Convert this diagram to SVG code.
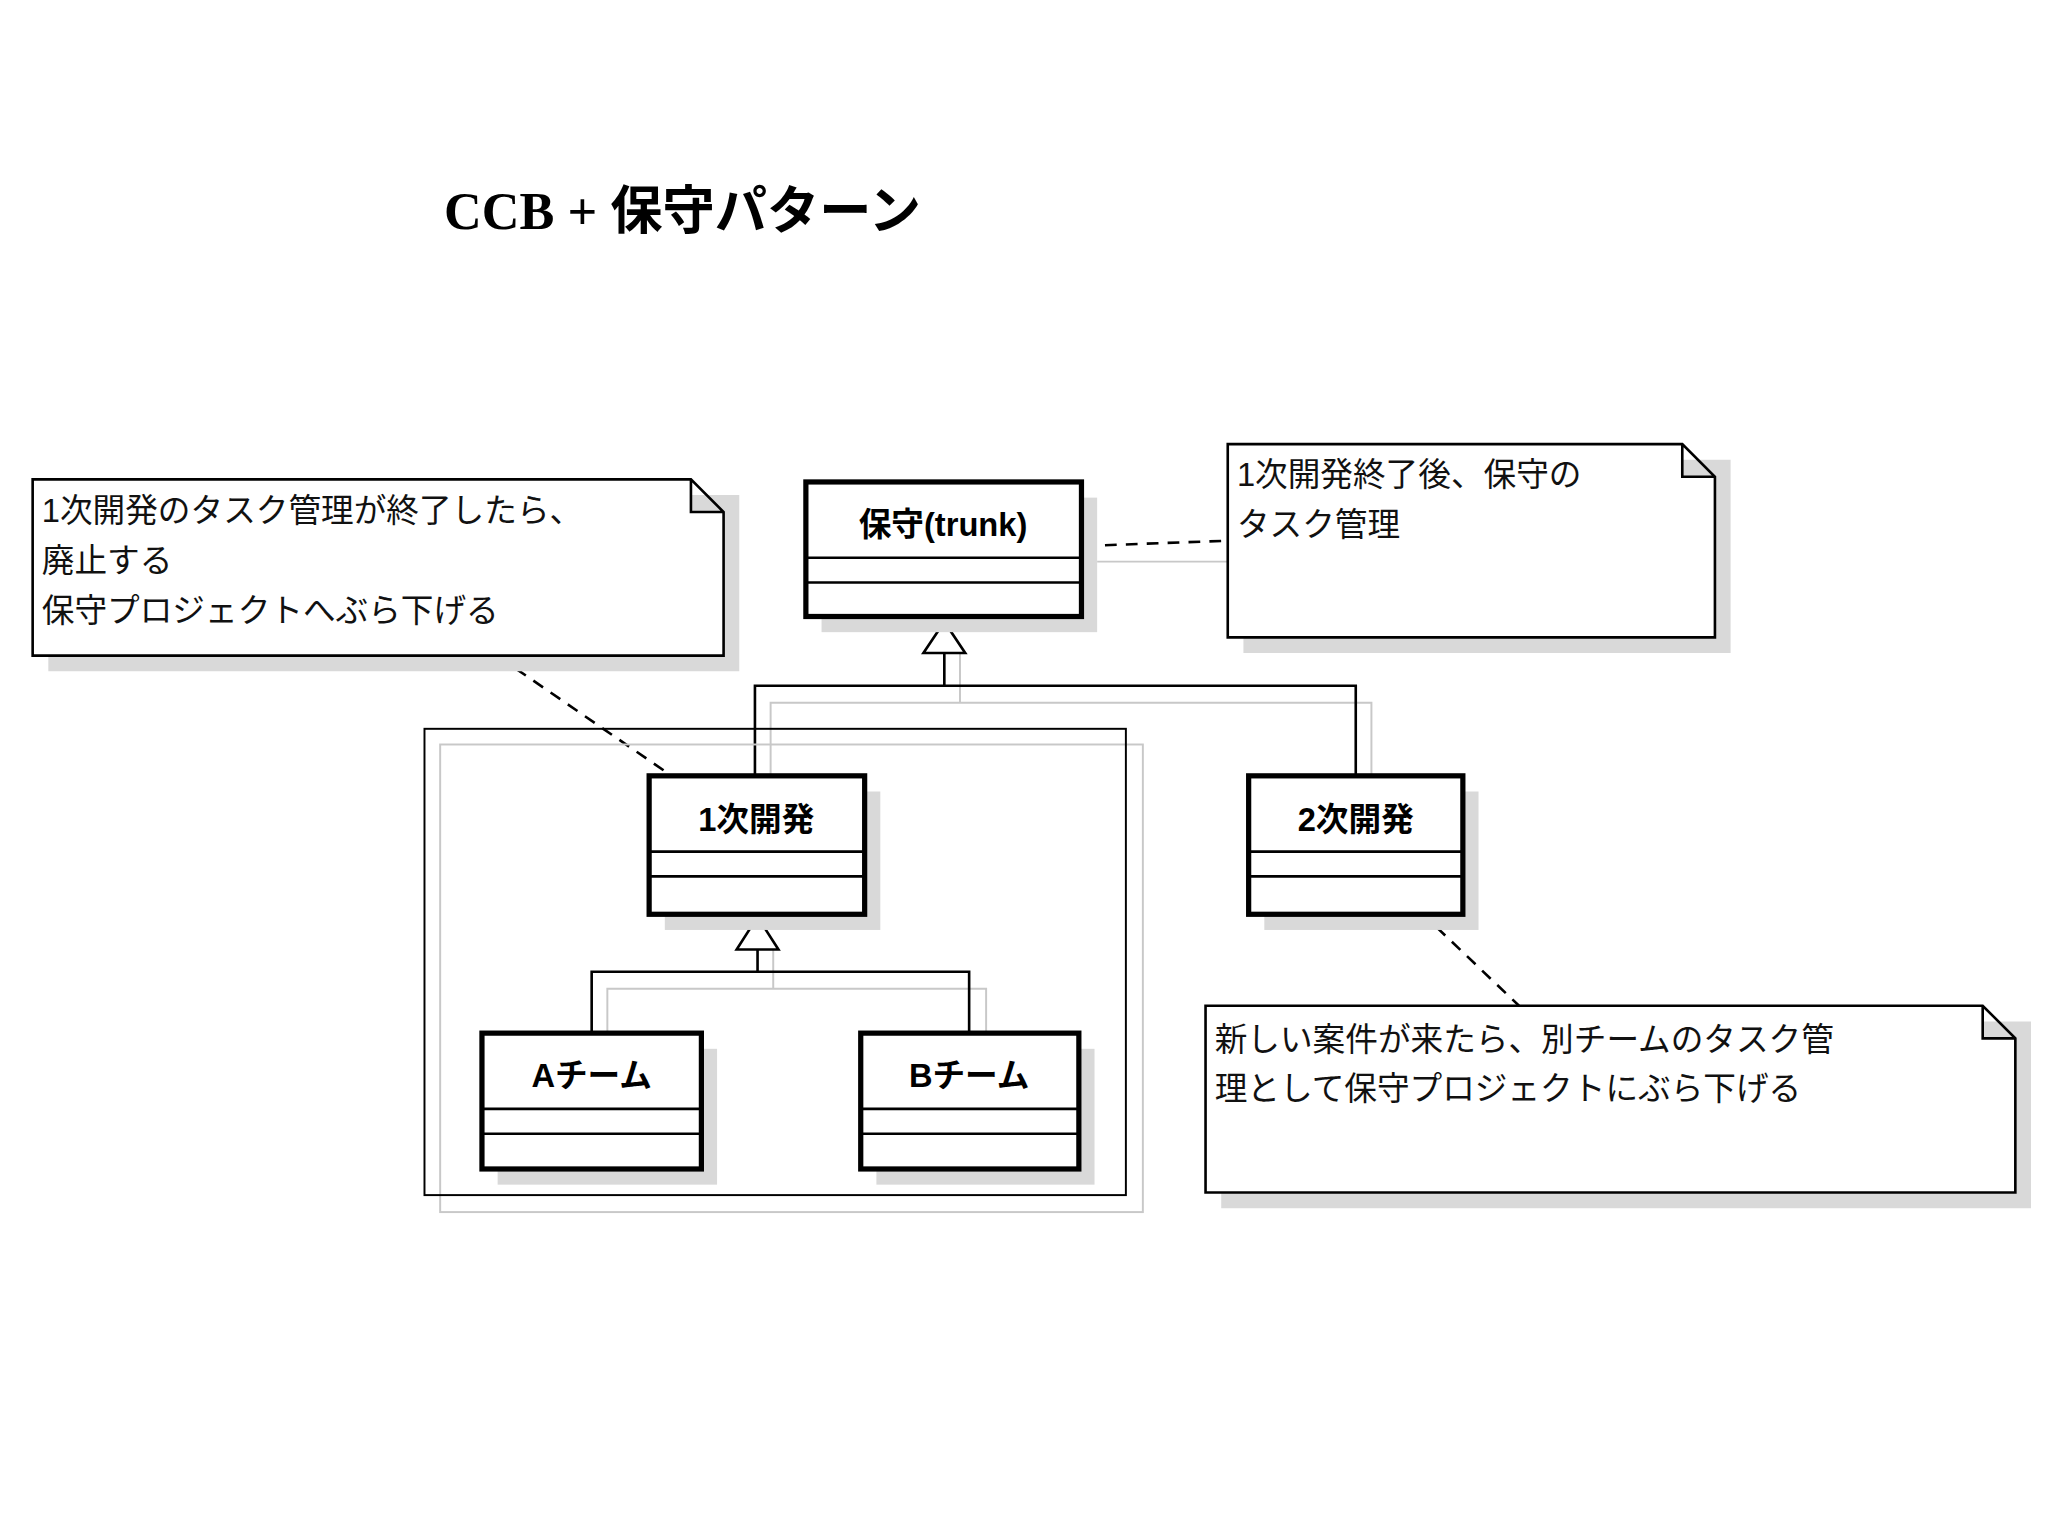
<svg xmlns="http://www.w3.org/2000/svg" width="2048" height="1536" viewBox="0 0 2048 1536">
<style>
.cls{fill:#fff;stroke:#000;stroke-width:4}
.note{fill:#fff;stroke:#000;stroke-width:2}
.sh{fill:#d9d9d9}
.ln{stroke:#000;stroke-width:2;fill:none}
.gl{stroke:#c8c8c8;stroke-width:1.5;fill:none}
.ds{stroke:#000;stroke-width:2;fill:none;stroke-dasharray:9,7}
.t{font-family:"Liberation Sans","Noto Sans CJK JP",sans-serif;font-size:25px;fill:#111}
.b{font-family:"Liberation Sans","Noto Sans CJK JP",sans-serif;font-size:25px;font-weight:bold;text-anchor:middle}
</style>
<rect width="2048" height="1536" fill="#fff"/>
<g transform="scale(1.30612)">
<text x="340" y="175" font-size="40" font-weight="bold"><tspan font-family="Liberation Serif,serif">CCB + </tspan><tspan font-family="Noto Sans CJK JP,sans-serif">保守パターン</tspan></text>

<g id="connectors">
<path class="gl" d="M735,500 V538 H590 V594 M735,538 H1050 V594 M840,430 H955 M592,727 V757 H465 V791 M592,757 H755 V791"/>
<path class="ln" d="M723,500 V525 H578 V594 M723,525 H1038 V594 M580,727 V744 H453 V791 M580,744 H742 V791"/>
<polygon points="723,476 707,500 739,500" fill="#fff" stroke="#000" stroke-width="2"/>
<polygon points="580,702 564,727 596,727" fill="#fff" stroke="#000" stroke-width="2"/>
<path class="ds" d="M830,418 L940,414 M382,503 L520,598 M1100,710 L1163,770"/>
</g>

<g id="package">
<rect x="337" y="570" width="538" height="358" fill="none" stroke="#c8c8c8" stroke-width="1.5"/>
<rect x="325" y="558" width="537" height="357" fill="none" stroke="#000" stroke-width="1.5"/>
</g>

<g id="note1">
<path class="sh" d="M37,379 H566 V514 H37 Z"/>
<path class="note" d="M25,367 H529 L554,392 V502 H25 Z M529,367 V392 H554"/>
<text class="t" x="32" y="400">1次開発のタスク管理が終了したら、</text>
<text class="t" x="32" y="438">廃止する</text>
<text class="t" x="32" y="476">保守プロジェクトへぶら下げる</text>
</g>

<g id="note2">
<path class="sh" d="M952,352 H1325 V500 H952 Z"/>
<path class="note" d="M940,340 H1288 L1313,365 V488 H940 Z M1288,340 V365 H1313"/>
<text class="t" x="947" y="372">1次開発終了後、保守の</text>
<text class="t" x="947" y="410">タスク管理</text>
</g>

<g id="note3">
<path class="sh" d="M935,782 H1555 V925 H935 Z"/>
<path class="note" d="M923,770 H1518 L1543,795 V913 H923 Z M1518,770 V795 H1543"/>
<text class="t" x="930" y="805">新しい案件が来たら、別チームのタスク管</text>
<text class="t" x="930" y="842">理として保守プロジェクトにぶら下げる</text>
</g>

<g id="trunk">
<rect class="sh" x="629" y="381" width="211" height="103"/>
<rect class="cls" x="617" y="369" width="211" height="103"/>
<path class="ln" d="M617,427 H828 M617,446 H828"/>
<text class="b" x="722" y="410">保守(trunk)</text>
</g>

<g id="dev1">
<rect class="sh" x="509" y="606" width="165" height="106"/>
<rect class="cls" x="497" y="594" width="165" height="106"/>
<path class="ln" d="M497,652 H662 M497,671 H662"/>
<text class="b" x="579" y="636">1次開発</text>
</g>

<g id="dev2">
<rect class="sh" x="968" y="606" width="164" height="106"/>
<rect class="cls" x="956" y="594" width="164" height="106"/>
<path class="ln" d="M956,652 H1120 M956,671 H1120"/>
<text class="b" x="1038" y="636">2次開発</text>
</g>

<g id="teamA">
<rect class="sh" x="381" y="803" width="168" height="104"/>
<rect class="cls" x="369" y="791" width="168" height="104"/>
<path class="ln" d="M369,849 H537 M369,868 H537"/>
<text class="b" x="453" y="832">Aチーム</text>
</g>

<g id="teamB">
<rect class="sh" x="671" y="803" width="167" height="104"/>
<rect class="cls" x="659" y="791" width="167" height="104"/>
<path class="ln" d="M659,849 H826 M659,868 H826"/>
<text class="b" x="742" y="832">Bチーム</text>
</g>
</g>
</svg>
